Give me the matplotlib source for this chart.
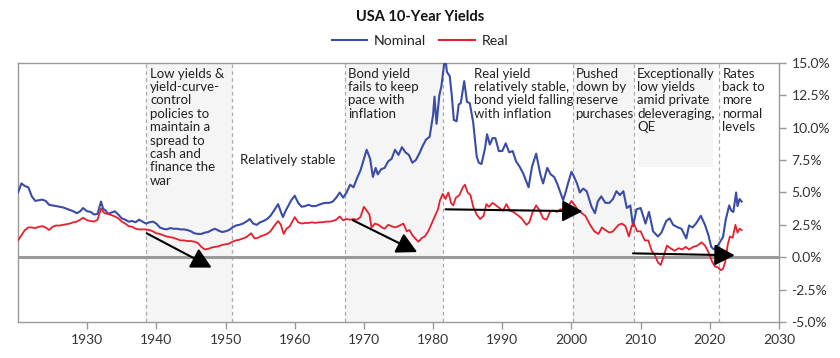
import matplotlib
matplotlib.use("Agg")
import matplotlib.pyplot as plt
from matplotlib.lines import Line2D
from matplotlib.patches import Rectangle

plt.rcParams['font.family'] = ['Lato', 'DejaVu Sans']

# ---------------- data ----------------
nominal_years = [
    1920.0, 1920.5, 1921.0, 1921.5, 1922.0, 1922.5, 1923.0, 1923.5, 1924.0, 1924.5,
    1925.0, 1925.5, 1926.0, 1926.5, 1927.0, 1927.5, 1928.0, 1928.5, 1929.0, 1929.4,
    1930.0, 1930.5, 1931.0, 1931.5, 1932.0, 1932.3, 1932.7, 1933.0, 1933.5, 1934.0,
    1934.5, 1935.0, 1935.5, 1936.0, 1936.5, 1937.0, 1937.5, 1938.0, 1938.5, 1939.0,
    1939.5, 1940.0, 1940.5, 1941.0, 1941.5, 1942.0, 1942.5, 1943.0, 1943.5, 1944.0,
    1944.5, 1945.0, 1945.5, 1946.0, 1946.5, 1947.0, 1947.5, 1948.0, 1948.5, 1949.0,
    1949.5, 1950.0, 1950.5, 1951.0, 1951.5, 1952.0, 1952.5, 1953.0, 1953.5, 1954.0,
    1954.5, 1955.0, 1955.5, 1956.0, 1956.5, 1957.0, 1957.6, 1958.0, 1958.3, 1958.7,
    1959.0, 1959.5, 1960.0, 1960.5, 1961.0, 1961.5, 1962.0, 1962.5, 1963.0, 1963.5,
    1964.0, 1964.5, 1965.0, 1965.5, 1966.0, 1966.5, 1967.0, 1967.5, 1968.0, 1968.5,
    1969.0, 1969.5, 1970.0, 1970.4, 1970.9, 1971.3, 1971.7, 1972.0, 1972.5, 1973.0,
    1973.5, 1974.0, 1974.5, 1975.0, 1975.5, 1976.0, 1976.5, 1977.0, 1977.5, 1978.0,
    1978.5, 1979.0, 1979.5, 1980.0, 1980.2, 1980.5, 1980.9, 1981.2, 1981.5, 1981.75,
    1982.0, 1982.4, 1982.7, 1983.0, 1983.4, 1983.7, 1984.0, 1984.5, 1984.9, 1985.3,
    1985.8, 1986.3, 1986.6, 1987.0, 1987.5, 1987.8, 1988.2, 1988.6, 1989.0, 1989.5,
    1990.0, 1990.5, 1991.0, 1991.5, 1992.0, 1992.5, 1993.0, 1993.8, 1994.3, 1994.9,
    1995.5, 1995.9, 1996.5, 1997.0, 1997.5, 1998.0, 1998.8, 1999.2, 1999.5, 2000.0,
    2000.3, 2000.8, 2001.2, 2001.7, 2002.2, 2002.9, 2003.4, 2003.8, 2004.3, 2004.9,
    2005.5, 2006.0, 2006.5, 2007.0, 2007.5, 2008.0, 2008.5, 2008.9, 2009.4, 2010.0,
    2010.7, 2011.2, 2011.8, 2012.5, 2013.0, 2013.7, 2014.2, 2014.7, 2015.4, 2015.9,
    2016.6, 2017.0, 2017.5, 2018.0, 2018.7, 2019.3, 2019.8, 2020.2, 2020.6, 2021.2,
    2021.6, 2021.9, 2022.3, 2022.8, 2023.1, 2023.4, 2023.8, 2024.0, 2024.3, 2024.6,
]
nominal = [
    5.0, 5.7, 5.5, 5.4, 4.7, 4.35, 4.4, 4.45, 4.35, 4.05,
    4.0, 3.95, 3.9, 3.85, 3.75, 3.65, 3.55, 3.4, 3.55, 3.8,
    3.55, 3.5, 3.3, 3.35, 4.3, 3.75, 3.6, 3.35, 3.45, 3.55,
    3.3, 3.0, 2.9, 2.75, 2.8, 2.7, 2.9, 2.75, 2.6, 2.7,
    2.75, 2.6, 2.3, 2.2, 2.15, 2.25, 2.2, 2.2, 2.15, 2.15,
    2.1, 2.0, 1.85, 1.8, 1.8, 1.9, 1.95, 2.1, 2.2, 2.05,
    1.95, 2.0, 2.1, 2.3, 2.45, 2.5, 2.6, 2.75, 2.95, 2.6,
    2.5, 2.7, 2.8, 2.95, 3.2, 3.6, 4.1, 3.5, 3.1, 3.6,
    3.9, 4.4, 4.75, 4.2, 3.9, 3.95, 4.05, 3.95, 3.95, 4.05,
    4.15, 4.2, 4.2, 4.3, 4.6, 5.0, 4.6, 5.0, 5.6, 5.4,
    6.1, 6.7, 7.6, 8.3, 7.6, 6.2, 6.9, 6.4, 6.8, 6.9,
    7.4, 7.6, 8.3, 7.9, 8.5, 8.1, 7.9, 7.3, 7.5, 8.0,
    8.6, 9.1, 9.3, 11.0, 12.4, 10.3, 12.5, 13.2, 14.5, 15.5,
    14.3, 14.0, 12.5, 10.6, 10.5, 11.8, 11.9, 13.6, 12.0, 11.9,
    10.4, 7.8, 7.3, 7.2, 8.4, 9.5, 8.7, 9.2, 9.2, 8.2,
    8.2, 8.8, 8.1, 8.2, 7.4, 7.0, 6.5, 5.4, 7.0, 8.0,
    6.4, 5.7, 6.9, 6.4, 6.2, 5.6, 4.4, 5.1, 5.7, 6.6,
    6.3, 5.7, 5.0, 5.3, 5.1, 3.9, 3.4, 4.3, 4.7, 4.2,
    4.2, 4.5, 5.1, 4.8, 5.1, 3.8, 4.0, 2.4, 3.7, 3.8,
    2.6, 3.5, 2.0, 1.6, 1.9, 2.8, 3.0, 2.5, 2.3, 2.2,
    1.45, 2.45, 2.3, 2.6, 3.2, 2.5, 1.7, 0.8, 0.6, 0.95,
    1.3, 1.55, 2.9, 4.0, 3.6, 3.5, 5.0, 3.95, 4.5, 4.3,
]

real_years = [
    1920.0, 1920.5, 1921.0, 1921.5, 1922.0, 1922.5, 1923.0, 1923.5, 1924.0, 1924.5,
    1925.0, 1925.5, 1926.0, 1926.5, 1927.0, 1927.5, 1928.0, 1928.5, 1929.0, 1929.4,
    1930.0, 1930.5, 1931.0, 1931.5, 1932.0, 1932.5, 1933.0, 1933.5, 1934.0, 1934.5,
    1935.0, 1935.5, 1936.0, 1936.5, 1937.0, 1937.5, 1938.0, 1938.5, 1939.0, 1939.5,
    1940.0, 1940.5, 1941.0, 1941.5, 1942.0, 1942.5, 1943.0, 1943.5, 1944.0, 1944.5,
    1945.0, 1945.5, 1946.0, 1946.5, 1947.0, 1947.5, 1948.0, 1948.5, 1949.0, 1949.5,
    1950.0, 1950.5, 1951.0, 1951.5, 1952.0, 1952.5, 1953.0, 1953.7, 1954.2, 1954.7,
    1955.0, 1955.5, 1956.0, 1956.5, 1957.0, 1957.6, 1958.0, 1958.4, 1958.8, 1959.3,
    1960.0, 1960.5, 1961.0, 1961.5, 1962.0, 1962.5, 1963.0, 1963.5, 1964.0, 1964.5,
    1965.0, 1965.5, 1966.0, 1966.5, 1967.0, 1967.5, 1968.0, 1968.5, 1969.0, 1969.5,
    1970.0, 1970.4, 1970.8, 1971.1, 1971.6, 1972.1, 1972.6, 1973.0, 1973.5, 1974.0,
    1974.5, 1975.0, 1975.7, 1976.2, 1976.6, 1977.0, 1977.5, 1977.9, 1978.4, 1978.8,
    1979.3, 1979.8, 1980.3, 1980.7, 1981.0, 1981.4, 1981.8, 1982.2, 1982.6, 1982.9,
    1983.3, 1983.8, 1984.3, 1984.6, 1985.0, 1985.4, 1985.8, 1986.3, 1986.8, 1987.3,
    1987.7, 1988.1, 1988.6, 1989.1, 1989.6, 1990.1, 1990.6, 1991.1, 1991.6, 1992.1,
    1992.8, 1993.5, 1993.9, 1994.4, 1994.9, 1995.4, 1995.9, 1996.4, 1996.9, 1997.3,
    1997.9, 1998.4, 1998.9, 1999.4, 2000.0, 2000.5, 2001.0, 2001.5, 2002.0, 2002.7,
    2003.3, 2003.9, 2004.4, 2004.9, 2005.5, 2006.0, 2006.8, 2007.3, 2007.8, 2008.3,
    2008.7, 2009.0, 2009.5, 2010.0, 2010.6, 2011.1, 2011.6, 2012.0, 2012.5, 2012.9,
    2013.4, 2013.8, 2014.3, 2014.9, 2015.5, 2016.0, 2016.5, 2017.0, 2017.6, 2018.2,
    2018.8, 2019.3, 2019.8, 2020.3, 2020.7, 2021.2, 2021.6, 2021.9, 2022.2, 2022.6,
    2022.9, 2023.3, 2023.7, 2024.0, 2024.3, 2024.6,
]
real = [
    1.3, 1.7, 2.1, 2.3, 2.3, 2.25, 2.35, 2.4, 2.3, 2.1,
    2.35, 2.45, 2.45, 2.5, 2.55, 2.6, 2.7, 2.75, 2.9, 3.05,
    2.85, 2.8, 2.75, 2.9, 3.75, 3.4, 3.35, 3.25, 3.15, 3.0,
    2.75, 2.6, 2.4, 2.35, 2.2, 2.15, 2.15, 2.15, 2.1, 2.0,
    1.85, 1.8, 1.7, 1.6, 1.55, 1.5, 1.4, 1.3, 1.3, 1.25,
    1.25, 1.2, 1.1, 0.8, 0.6, 0.65, 0.75, 0.8, 0.85, 0.95,
    1.0, 1.05, 1.2, 1.3, 1.35, 1.45, 1.55, 1.85, 1.45, 1.5,
    1.6, 1.7, 1.8, 2.0, 2.4, 2.8, 2.5, 1.8, 2.2, 2.4,
    3.1, 2.7, 2.6, 2.65, 2.65, 2.7, 2.65, 2.7, 2.7, 2.75,
    2.75, 2.8, 2.9, 3.15, 2.85, 2.95, 2.9, 2.95, 2.9, 3.1,
    3.9, 3.6, 3.3, 2.3, 2.6, 2.5, 2.3, 2.2, 2.5, 2.4,
    2.3, 2.4, 2.6, 2.0, 2.1, 1.7, 1.4, 1.2, 1.5, 1.6,
    2.0, 2.6, 3.2, 3.7, 4.4, 4.9, 4.5, 5.0, 4.2, 4.0,
    4.6, 4.8, 5.4, 5.6, 5.0, 4.8, 3.9, 3.3, 2.95, 3.2,
    4.1, 3.9, 4.2, 4.0, 3.8, 3.6, 4.1, 3.6, 3.5, 3.3,
    3.0, 2.5, 2.7, 3.5, 4.0, 3.6, 3.0, 2.9, 3.5, 3.6,
    3.5, 3.7, 3.7, 3.8, 4.35, 4.0, 3.6, 3.4, 3.2, 2.5,
    2.0, 1.8, 2.3, 2.1, 1.9, 2.0, 2.5, 2.6, 2.4, 1.6,
    2.4, 2.6, 2.0, 2.0, 1.3, 1.3, 0.5, 0.2, -0.4, -0.6,
    0.2, 0.9, 0.7, 0.5, 0.7, 0.6, 0.8, 0.6, 0.8, 0.9,
    1.15, 0.9, 0.4, -0.3, -0.7, -0.8, -1.0, -0.9, -0.4, 1.0,
    1.6, 1.5, 2.5, 1.9, 2.2, 2.1,
]

# period boundaries and notes
period_edges = [1938.5, 1950.9, 1967.2, 1981.5, 2000.2, 2009.1, 2021.3]
shaded_periods = [(1938.5, 1950.9), (1967.2, 1981.5), (2000.2, 2009.1)]
notes = [
    (1939.1, 14.65, "Low yields &\nyield-curve-\ncontrol\npolicies to\nmaintain a\nspread to\ncash and\nfinance the\nwar", 'top'),
    (1952.1, 7.5, "Relatively stable", 'center'),
    (1967.7, 14.65, "Bond yield\nfails to keep\npace with\ninflation", 'top'),
    (1985.9, 14.65, "Real yield\nrelatively stable,\nbond yield falling\nwith inflation", 'top'),
    (2000.6, 14.65, "Pushed\ndown by\nreserve\npurchases", 'top'),
    (2009.5, 14.65, "Exceptionally\nlow yields\namid private\ndeleveraging,\nQE", 'top'),
    (2021.8, 14.65, "Rates\nback to\nmore\nnormal\nlevels", 'top'),
]
arrows = [
    ((1938.6, 1.85), (1948.0, -0.8)),
    ((1968.4, 2.86), (1977.7, 0.4)),
    ((1981.8, 3.7), (2001.6, 3.55)),
    ((2008.9, 0.3), (2023.6, 0.15)),
]
x_ticks = [1930, 1940, 1950, 1960, 1970, 1980, 1990, 2000, 2010, 2020, 2030]
y_ticks = [-5.0, -2.5, 0.0, 2.5, 5.0, 7.5, 10.0, 12.5, 15.0]

BLUE = '#3a4ca6'
RED = '#e5202e'
GRID = '#9a9a9a'
TXT = '#222222'

fig = plt.figure(figsize=(8.4, 3.58), dpi=100)
ax = fig.add_axes([0.0214, 0.1006, 0.9060, 0.7234])
ax.set_xlim(1920, 2030)
ax.set_ylim(-5, 15)

for a, b in shaded_periods:
    ax.axvspan(a, b, color='#f5f5f5', lw=0, zorder=0)
# light box behind the QE note
ax.add_patch(Rectangle((2009.6, 7.0), 10.8, 8.0, facecolor='#f5f5f5', edgecolor='none', zorder=0))

for e in period_edges:
    ax.axvline(e, color='#aaaaaa', lw=0.9, ls=(0, (3, 2.5)), zorder=1)

ax.axhline(0, color=GRID, lw=2.2, zorder=2)

ax.plot(nominal_years, nominal, color=BLUE, lw=1.5, zorder=3)
ax.plot(real_years, real, color=RED, lw=1.3, zorder=3)

for x, y, s, va in notes:
    ax.text(x, y, s, ha='left', va=va, fontsize=9.5, color=TXT, linespacing=1.14, zorder=4)

for (x0, y0), (x1, y1) in arrows:
    ax.annotate('', xy=(x1, y1), xytext=(x0, y0),
                arrowprops=dict(arrowstyle='-|>,head_length=0.95,head_width=0.5',
                                mutation_scale=13,
                                color='black', lw=1.5, shrinkA=0, shrinkB=0),
                zorder=5)

for s in ax.spines.values():
    s.set_color(GRID)
    s.set_linewidth(1.0)

ax.yaxis.tick_right()
ax.set_yticks(y_ticks)
ax.set_yticklabels([f"{v:.1f}%" for v in y_ticks])
ax.set_xticks(x_ticks)
ax.set_xticklabels([str(v) for v in x_ticks])
ax.tick_params(axis='both', colors=GRID, labelcolor='#333333', labelsize=10, length=5, width=1)
ax.tick_params(axis='y', pad=4)

fig.text(0.5, 0.953, "USA 10-Year Yields", ha='center', va='center', fontsize=10.5,
         fontweight='bold', color='#111111')
handles = [Line2D([], [], color=BLUE, lw=1.5), Line2D([], [], color=RED, lw=1.5)]
fig.legend(handles, ["Nominal", "Real"], loc='center', bbox_to_anchor=(0.5, 0.886), ncol=2,
           frameon=False, fontsize=10.2, handlelength=2.5, columnspacing=0.9, handletextpad=0.5,
           labelcolor='#222222')

fig.savefig("out.png", dpi=100)
